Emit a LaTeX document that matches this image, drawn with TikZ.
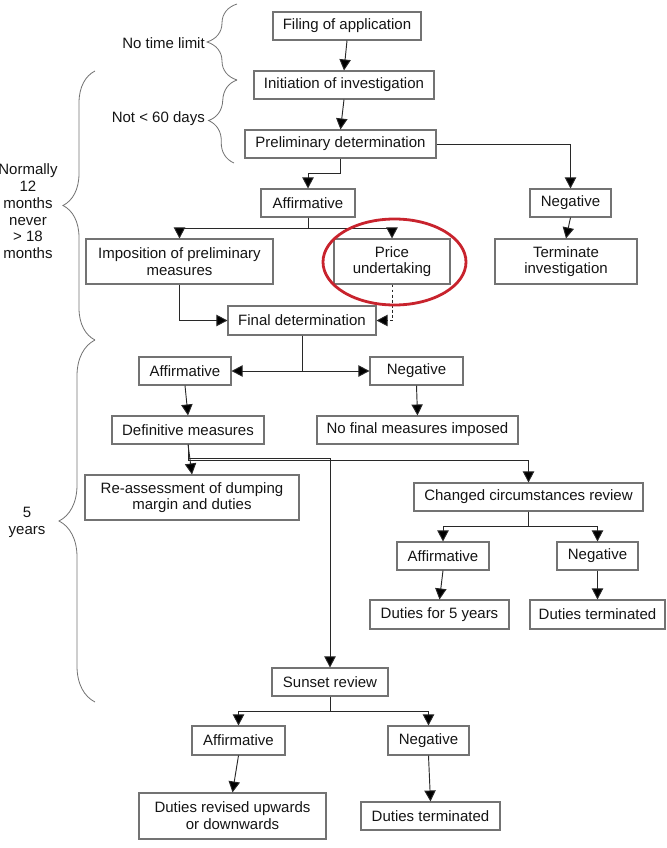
\documentclass[tikz,border=0pt]{standalone}
\usepackage{fontspec}
\setmainfont{Liberation Sans}
\usepackage{tikz}
\usetikzlibrary{arrows.meta,calc,decorations.pathreplacing}
\definecolor{boxgray}{RGB}{115,115,115}
\definecolor{linegray}{RGB}{40,40,40}
\definecolor{txtgray}{RGB}{20,20,20}
\definecolor{ringred}{RGB}{200,35,45}

\begin{document}
\begin{tikzpicture}[x=0.03cm, y=-0.03cm,
  bx/.style={rectangle, draw=boxgray, line width=0.9pt, text=txtgray, align=center,
    inner sep=0pt, font=\fontsize{12.8}{14.3}\selectfont},
  sz/.style 2 args={minimum width=#1*0.03cm, minimum height=#2*0.03cm},
  lbl/.style={text=txtgray, align=center, inner sep=0pt, font=\fontsize{12.8}{14.3}\selectfont},
  arr/.style={-{Triangle[length=3.3mm, width=3.4mm, fill=black]}, linegray, line width=0.8pt},
  brc/.style={decorate, decoration={brace, amplitude=#1}, boxgray, line width=0.7pt},
  ring/.style={ringred, line width=2.4pt}]
\useasboundingbox (0,0) rectangle (666,848);
% investigation
\node[bx, sz={148}{28}] (fil) at (347,26) {Filing of application};
\node[bx, sz={180}{28}] (ini) at (344,85) {Initiation of investigation};
\node[bx, sz={191}{28}] (pre) at (340.5,144) {Preliminary determination};
\node[bx, sz={94}{28}] (aff1) at (308,203) {Affirmative};
\node[bx, sz={81}{28}] (neg1) at (570.5,203) {Negative};
\node[bx, sz={187}{45}] (imp) at (179.5,261.5) {Imposition of preliminary\\measures};
\node[bx, sz={116}{45}] (pri) at (392,261.5) {Price\\undertaking};
\node[bx, sz={142}{45}] (ter) at (566,261.5) {Terminate\\investigation};
\node[bx, sz={148}{29}] (fin) at (302,320.5) {Final determination};
% final outcome
\node[bx, sz={92}{28}] (aff2) at (185,371) {Affirmative};
\node[bx, sz={93}{28}] (neg2) at (416.5,371) {Negative};
\node[bx, sz={152}{28}] (def) at (188,430) {Definitive measures};
\node[bx, sz={201}{28}] (nof) at (417.5,430) {No final measures imposed};
\node[bx, sz={214}{45}] (rea) at (192,497.5) {Re-assessment of dumping\\margin and duties};
\node[bx, sz={229}{28}] (chg) at (528.5,497) {Changed circumstances review};
\node[bx, sz={92}{28}] (aff3) at (443,556) {Affirmative};
\node[bx, sz={81}{28}] (neg3) at (597.5,556) {Negative};
\node[bx, sz={139}{29}] (dfy) at (439.5,614.5) {Duties for 5 years};
\node[bx, sz={135}{29}] (dtm) at (597.5,614.5) {Duties terminated};
% sunset
\node[bx, sz={116}{28}] (sun) at (330,682) {Sunset review};
\node[bx, sz={93}{29}] (aff4) at (238.5,740.5) {Affirmative};
\node[bx, sz={81}{29}] (neg4) at (428.5,740.5) {Negative};
\node[bx, sz={187}{46}] (rev) at (232.5,816) {Duties revised upwards\\or downwards};
\node[bx, sz={139}{28}] (dtm2) at (430.5,816) {Duties terminated};
% time limits
\coordinate (b1top) at (237,4);
\coordinate (b1bot) at (237,80);
\coordinate (b2bot) at (234,163);
\coordinate (b3top) at (95,71);
\coordinate (b3bot) at (95,340);
\coordinate (b4bot) at (95,702);
\draw[brc=0.9cm] (b1bot) -- (b1top);
\draw[brc=0.81cm] (b2bot) -- (b1bot);
\draw[brc=0.96cm] (b3bot) -- (b3top);
\draw[brc=1.08cm] (b4bot) -- (b3bot);
\node[lbl, anchor=east] (ntl) at (205,43) {No time limit};
\node[lbl, anchor=east] (n60) at (205,119) {Not < 60 days};
\node[lbl] (n12) at (28,211.5) {Normally\\12\\months\\never\\> 18\\months};
\node[lbl] (n5y) at (27,522.5) {5\\years};
% connectors
\draw[arr] (fil.south) -- (ini.north);
\draw[arr] (ini.south) -- (pre.north);
\draw[arr] (pre.south) -- ++(0,15) -| (aff1.north);
\draw[arr] (pre.east) -| (neg1.north);
\foreach \t in {imp,pri} \draw[arr] (aff1.south) -- ++(0,11) -| (\t.north);
\draw[arr] (neg1.south) -- (ter.north);
\draw[arr] (imp.south) |- (fin.west);
\draw[arr, dash pattern=on 2.5pt off 1.8pt] (pri.south) |- (fin.east);
\foreach \t in {aff2.east,neg2.west} \draw[arr] (fin.south) |- (\t);
\draw[arr] (aff2.south) -- (def.north);
\draw[arr] (neg2.south) -- (nof.north);
\draw[arr] (def.south) -- (rea.north);
\draw[arr] (def.south) -- ++(0,14) -| (sun.north);
\draw[arr] (def.south) -- ++(0,16) -| (chg.north);
\foreach \t in {aff3,neg3} \draw[arr] (chg.south) -- ++(0,15) -| (\t.north);
\draw[arr] (aff3.south) -- (dfy.north);
\draw[arr] (neg3.south) -- (dtm.north);
\foreach \t in {aff4,neg4} \draw[arr] (sun.south) -- ++(0,15) -| (\t.north);
\draw[arr] (aff4.south) -- (rev.north);
\draw[arr] (neg4.south) -- (dtm2.north);
% highlight
\draw[ring] (394.5,262) ellipse [x radius=2.145cm, y radius=1.29cm];
\end{tikzpicture}
\end{document}
